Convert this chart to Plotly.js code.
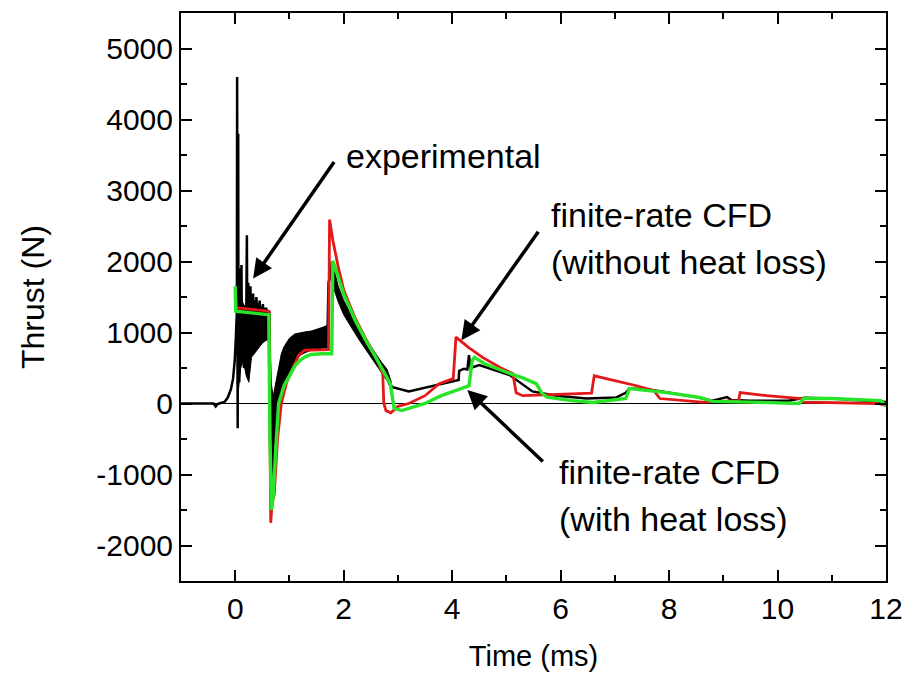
<!DOCTYPE html>
<html>
<head>
<meta charset="utf-8">
<script src="https://cdn.plot.ly/plotly-3.0.1.min.js"></script>
<style>html,body{margin:0;padding:0;background:#fff;}#chart{width:909px;height:683px;}</style>
</head>
<body>
<div id="chart"></div>
<script>
// ---- experimental (main line) ----
const expX = [-1, -0.4, -0.36, -0.33, -0.3, -0.2, -0.14, -0.08, -0.04, -0.01,
  0.01, 0.03, 0.035, 0.04, 0.045, 0.055, 0.06, 0.065, 0.075, 0.09, 0.1, 0.115, 0.125, 0.14, 0.16, 0.18, 0.2,
  0.215, 0.225, 0.24, 0.26, 0.28, 0.3, 0.33, 0.36, 0.39, 0.42, 0.45, 0.48, 0.51, 0.54, 0.57, 0.6, 0.63,
  0.645, 0.66, 0.68, 0.7, 0.72, 0.75, 0.78, 0.82, 0.86, 0.9, 0.95, 1.0, 1.1, 1.2, 1.3, 1.4, 1.5, 1.6, 1.7,
  1.72, 1.76, 1.78, 1.82, 1.9, 2.0, 2.2, 2.4, 2.6, 2.8, 2.85, 2.9, 3.2, 3.57, 4.07, 4.12, 4.13, 4.22, 4.28,
  4.31, 4.34, 4.5, 5.06, 5.48, 5.92, 6.48, 7.03, 7.2, 7.27, 7.6, 8.0, 8.5, 8.8, 9.0, 9.07, 9.15, 9.5, 10.2,
  10.5, 11.0, 11.5, 12];
const expY = [0, 0, -40, -10, 0, 20, 80, 200, 350, 600,
  900, 1300, 4600, 1000, -350, 3800, 400, 1500, 300, 1900, 600, 1950, 700, 1400, 500, 1350, 900,
  2370, 400, 1700, 600, 1650, 800, 1550, 900, 1500, 1000, 1450, 950, 1400, 1000, 1350, 1100, 1300,
  300, -1000, -300, -800, -100, -400, 200, 0, 500, 300, 700, 600, 800, 850, 870, 890, 900, 920, 950,
  1700, 1800, 2000, 1850, 1550, 1350, 1090, 840, 610, 400, 270, 230, 170, 230, 320, 330, 460, 490, 480,
  680, 500, 540, 400, 170, 110, 70, 85, 150, 210, 200, 150, 90, 40, 70, 90, 50, 40, 40,
  80, 70, 50, 20];

// ---- experimental noise band envelopes ----
const band1X  = [0.03, 0.06, 0.1, 0.15, 0.2, 0.25, 0.3, 0.35, 0.4, 0.45, 0.5, 0.55, 0.6, 0.63];
const band1Hi = [1300, 1450, 1500, 1400, 1350, 1450, 1450, 1450, 1420, 1380, 1350, 1340, 1320, 1300];
const band1Lo = [300, 200, 500, 600, 400, 300, 650, 700, 750, 800, 850, 880, 900, 950];

const band2X  = [0.64, 0.66, 0.7, 0.75, 0.8, 0.85, 0.9, 1.0, 1.1, 1.2, 1.3, 1.4, 1.5, 1.6, 1.7, 1.72];
const band2Hi = [1000, 300, 100, 300, 550, 700, 800, 920, 980, 1000, 1010, 1020, 1040, 1070, 1100, 1100];
const band2Lo = [-1000, -1300, -1000, -600, -250, 50, 250, 450, 600, 680, 720, 750, 760, 780, 780, 780];

const band3X  = [1.78, 1.85, 1.9, 2.0, 2.1, 2.2, 2.3, 2.4, 2.5, 2.6, 2.7, 2.8, 2.88];
const band3Hi = [2000, 1780, 1650, 1450, 1300, 1170, 1040, 920, 800, 690, 580, 480, 300];
const band3Lo = [1700, 1550, 1430, 1250, 1120, 1000, 880, 760, 650, 540, 430, 320, 200];

// ---- finite-rate CFD (without heat loss) ----
const redX = [0, 0.02, 0.62, 0.64, 0.655, 0.68, 0.72, 0.78, 0.85, 0.95, 1.04, 1.17, 1.28, 1.72,
  1.74, 1.8, 1.9, 2.0, 2.2, 2.4, 2.6, 2.72, 2.74, 2.78, 2.87, 3.0, 3.2, 3.5, 3.76, 4.02,
  4.07, 4.3, 4.56, 4.9, 5.12, 5.18, 5.3, 6.0, 6.57, 6.62, 7.0, 7.4, 7.72, 7.83, 8.6, 9.28,
  9.31, 9.8, 10.43, 10.48, 11.85, 12];
const redY = [1600, 1350, 1300, 0, -1680, -1400, -1280, -500, 0, 300, 460, 680, 750, 760,
  2590, 2300, 1920, 1600, 1220, 920, 650, 420, 0, -100, -130, -40, 0, 110, 280, 350,
  935, 790, 650, 500, 420, 150, 110, 125, 145, 390, 320, 250, 180, 70, 20, 40,
  155, 110, 70, 20, 0, -30];

// ---- finite-rate CFD (with heat loss) ----
const greenX = [0, 0.01, 0.62, 0.64, 0.67, 0.7, 0.75, 0.8, 0.9, 1.0, 1.1, 1.2, 1.3, 1.4, 1.5, 1.6, 1.78,
  1.8, 1.9, 2.0, 2.2, 2.4, 2.6, 2.8, 2.86, 2.93, 3.07, 3.5, 3.8, 4.31, 4.37, 4.41, 4.6, 5.0, 5.3,
  5.55, 5.65, 5.75, 6.2, 6.6, 7.2, 7.27, 7.5, 8.0, 8.57, 8.8, 9.5, 10.4, 10.48, 11.0, 11.9, 12];
const greenY = [1650, 1300, 1250, -500, -1500, -1300, -600, 0, 250, 400, 530, 610, 660, 690, 700, 700, 700,
  2010, 1780, 1540, 1190, 900, 640, 380, 280, -70, -100, 0, 110, 250, 600, 650, 560, 440, 360,
  280, 150, 90, 40, 15, 70, 210, 190, 150, 85, 30, 20, 0, 70, 70, 40, -30];

// tick values
const yTicks = [-2000, -1000, 0, 1000, 2000, 3000, 4000, 5000];
const xTicks = [0, 2, 4, 6, 8, 10, 12];

function poly(x, hi, lo) {
  return {
    x: x.concat(x.slice().reverse()),
    y: hi.concat(lo.slice().reverse())
  };
}
const bandStyle = {type: 'scatter', mode: 'lines', fill: 'toself', fillcolor: '#000',
  line: {color: '#000', width: 1}, hoverinfo: 'skip', showlegend: false};
const b1 = poly(band1X, band1Hi, band1Lo);
const b2 = poly(band2X, band2Hi, band2Lo);
const b3 = poly(band3X, band3Hi, band3Lo);

const traces = [
  Object.assign({x: b1.x, y: b1.y}, bandStyle),
  Object.assign({x: b2.x, y: b2.y}, bandStyle),
  Object.assign({x: b3.x, y: b3.y}, bandStyle),
  {type: 'scatter', mode: 'lines', x: expX, y: expY, line: {color: '#000', width: 2.5}, name: 'experimental'},
  {type: 'scatter', mode: 'lines', x: redX, y: redY, line: {color: 'rgb(228,24,24)', width: 2.8}, name: 'finite-rate CFD (without heat loss)'},
  {type: 'scatter', mode: 'lines', x: greenX, y: greenY, line: {color: 'rgb(40,228,40)', width: 3.4}, name: 'finite-rate CFD (with heat loss)'}
];

const FONT = 'Liberation Sans, Arial, Helvetica, sans-serif';
const annFont = {family: FONT, size: 34, color: '#000'};
const arrowBase = {xref: 'x', yref: 'y', axref: 'pixel', ayref: 'pixel', text: '', showarrow: true,
  arrowhead: 2, arrowsize: 1.1, arrowwidth: 3.5, arrowcolor: '#000', standoff: 0};

const layout = {
  width: 909, height: 683,
  margin: {l: 181, r: 23, t: 13, b: 102},
  paper_bgcolor: '#fff', plot_bgcolor: '#fff',
  showlegend: false,
  font: {family: FONT, color: '#000'},
  xaxis: {
    range: [-1, 12], tickvals: xTicks, ticktext: xTicks.map(String),
    ticks: 'inside', ticklen: 11, tickwidth: 2, tickcolor: '#000',
    minor: {dtick: 1, tick0: 0, ticks: 'inside', ticklen: 6, tickwidth: 2, tickcolor: '#000'},
    showline: true, linewidth: 2, linecolor: '#000', mirror: 'ticks',
    showgrid: false, zeroline: false,
    tickfont: {family: FONT, size: 30, color: '#000'},
    title: {text: 'Time (ms)', font: {family: FONT, size: 29, color: '#000'}, standoff: 22}
  },
  yaxis: {
    range: [-2500, 5500], tickvals: yTicks, ticktext: yTicks.map(String),
    ticks: 'inside', ticklen: 11, tickwidth: 2, tickcolor: '#000',
    minor: {dtick: 500, tick0: 0, ticks: 'inside', ticklen: 6, tickwidth: 2, tickcolor: '#000'},
    showline: true, linewidth: 2, linecolor: '#000', mirror: 'ticks',
    showgrid: false, zeroline: true, zerolinecolor: '#000', zerolinewidth: 1.5,
    tickfont: {family: FONT, size: 30, color: '#000'},
    title: {text: 'Thrust (N)', font: {family: FONT, size: 32, color: '#000'}, standoff: 42}
  },
  annotations: [
    Object.assign({}, arrowBase, {x: 0.33, y: 1760, ax: 82, ay: -118}),
    Object.assign({}, arrowBase, {x: 4.17, y: 890, ax: 78, ay: -110}),
    Object.assign({}, arrowBase, {x: 4.28, y: 190, ax: 77, ay: 73}),
    {xref: 'x', yref: 'y', x: 2.0, y: 3490, text: 'experimental', showarrow: false, xanchor: 'left', yanchor: 'middle', font: annFont},
    {xref: 'x', yref: 'y', x: 5.78, y: 2650, text: 'finite-rate CFD', showarrow: false, xanchor: 'left', yanchor: 'middle', font: annFont},
    {xref: 'x', yref: 'y', x: 5.78, y: 1990, text: '(without heat loss)', showarrow: false, xanchor: 'left', yanchor: 'middle', font: annFont},
    {xref: 'x', yref: 'y', x: 5.93, y: -970, text: 'finite-rate CFD', showarrow: false, xanchor: 'left', yanchor: 'middle', font: annFont},
    {xref: 'x', yref: 'y', x: 5.93, y: -1620, text: '(with heat loss)', showarrow: false, xanchor: 'left', yanchor: 'middle', font: annFont}
  ]
};

Plotly.newPlot('chart', traces, layout, {displayModeBar: false, staticPlot: true});
</script>
</body>
</html>
